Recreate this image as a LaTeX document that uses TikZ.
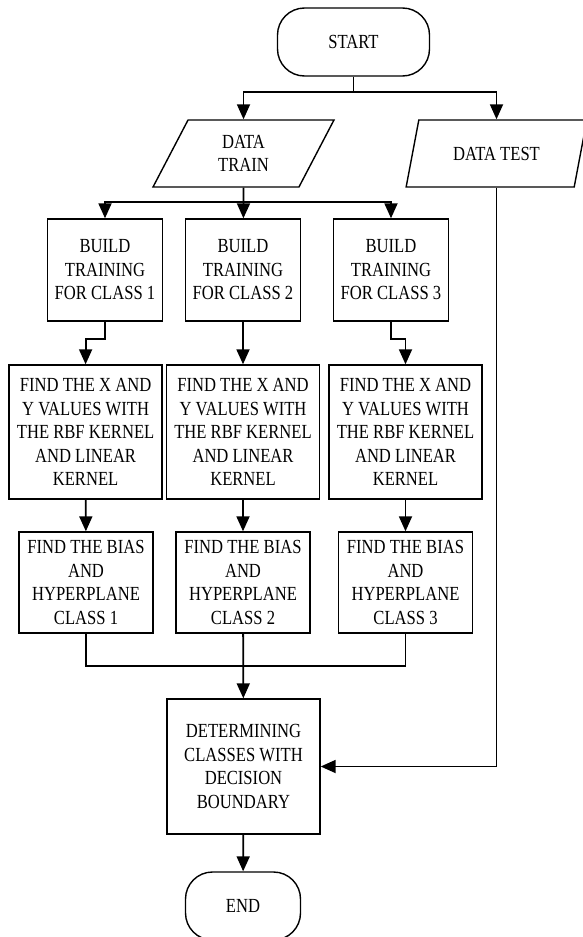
\documentclass[tikz,border=0pt]{standalone}
\usepackage{fontspec}
\setmainfont{Liberation Serif}[FakeStretch=0.83]
\usetikzlibrary{positioning,shapes.geometric,arrows.meta}

\begin{document}
\begin{tikzpicture}[x=1pt,y=-1pt,
  box/.style={draw, line width=1.4pt, align=center, inner sep=2pt,
    font=\fontsize{20}{23.5}\selectfont},
  term/.style={box, rounded corners=27pt, minimum width=152pt, minimum height=68pt},
  io/.style={box, trapezium, trapezium left angle=67, trapezium right angle=113,
    trapezium stretches=true, minimum width=181pt, minimum height=67pt},
  flow/.style={line width=1.8pt, -{Triangle[length=15pt,width=13pt]}},
  link/.style={line width=1.8pt}]
\useasboundingbox (0,0) rectangle (582,937);
% terminals and inputs
\node[term] (start) at (353.5,42) {START};
\node[io] (train) at (243.5,153.5) {DATA\\TRAIN};
\node[io] (test) at (496.5,153.5) {DATA TEST};
% one column per class
\node[box, minimum width=115pt, minimum height=102pt] (build1) at (105,270) {BUILD\\TRAINING\\FOR CLASS 1};
\node[box, minimum width=115pt, minimum height=102pt] (build2) at (243,270) {BUILD\\TRAINING\\FOR CLASS 2};
\node[box, minimum width=115pt, minimum height=102pt] (build3) at (391,270) {BUILD\\TRAINING\\FOR CLASS 3};
\node[box, minimum width=153pt, minimum height=134pt] (find1) at (85.6,432) {FIND THE X AND\\Y VALUES WITH\\THE RBF KERNEL\\AND LINEAR\\KERNEL};
\node[box, minimum width=153pt, minimum height=134pt] (find2) at (243,432) {FIND THE X AND\\Y VALUES WITH\\THE RBF KERNEL\\AND LINEAR\\KERNEL};
\node[box, minimum width=153pt, minimum height=134pt] (find3) at (405.5,432) {FIND THE X AND\\Y VALUES WITH\\THE RBF KERNEL\\AND LINEAR\\KERNEL};
\node[box, minimum width=134pt, minimum height=101pt] (bias1) at (86,582.5) {FIND THE BIAS\\AND\\HYPERPLANE\\CLASS 1};
\node[box, minimum width=134pt, minimum height=101pt] (bias2) at (243,582.5) {FIND THE BIAS\\AND\\HYPERPLANE\\CLASS 2};
\node[box, minimum width=134pt, minimum height=101pt] (bias3) at (405.5,582.5) {FIND THE BIAS\\AND\\HYPERPLANE\\CLASS 3};
\node[box, minimum width=153pt, minimum height=135pt] (decide) at (243.5,766.5) {DETERMINING\\CLASSES WITH\\DECISION\\BOUNDARY};
\node[term, minimum width=115pt] (end) at (243,906) {END};
% branch points
\coordinate (split) at (353.5,92);
\coordinate (fork) at (243.5,202);
\coordinate (merge) at (243,666);
% connectors
\draw[link] (start) -- (split);
\draw[flow] (split) -| (train);
\draw[flow] (split) -| (test);
\draw[link] (train) -- (fork);
\draw[flow] (fork) -| (build1);
\draw[flow] (fork) -- (build2);
\draw[flow] (fork) -| (build3);
\draw[flow] (build1.south) -- ++(0,17) -| (find1.north);
\draw[flow] (build2) -- (find2);
\draw[flow] (build3.south) -- ++(0,17) -| (find3.north);
\draw[flow] (find1) -- (bias1);
\draw[flow] (find2) -- (bias2);
\draw[flow] (find3) -- (bias3);
\draw[link] (bias1.south) |- (merge);
\draw[link] (bias3.south) |- (merge);
\draw[flow] (bias2) -- (decide);
\draw[flow] (test) |- (decide);
\draw[flow] (decide) -- (end);
\end{tikzpicture}
\end{document}
